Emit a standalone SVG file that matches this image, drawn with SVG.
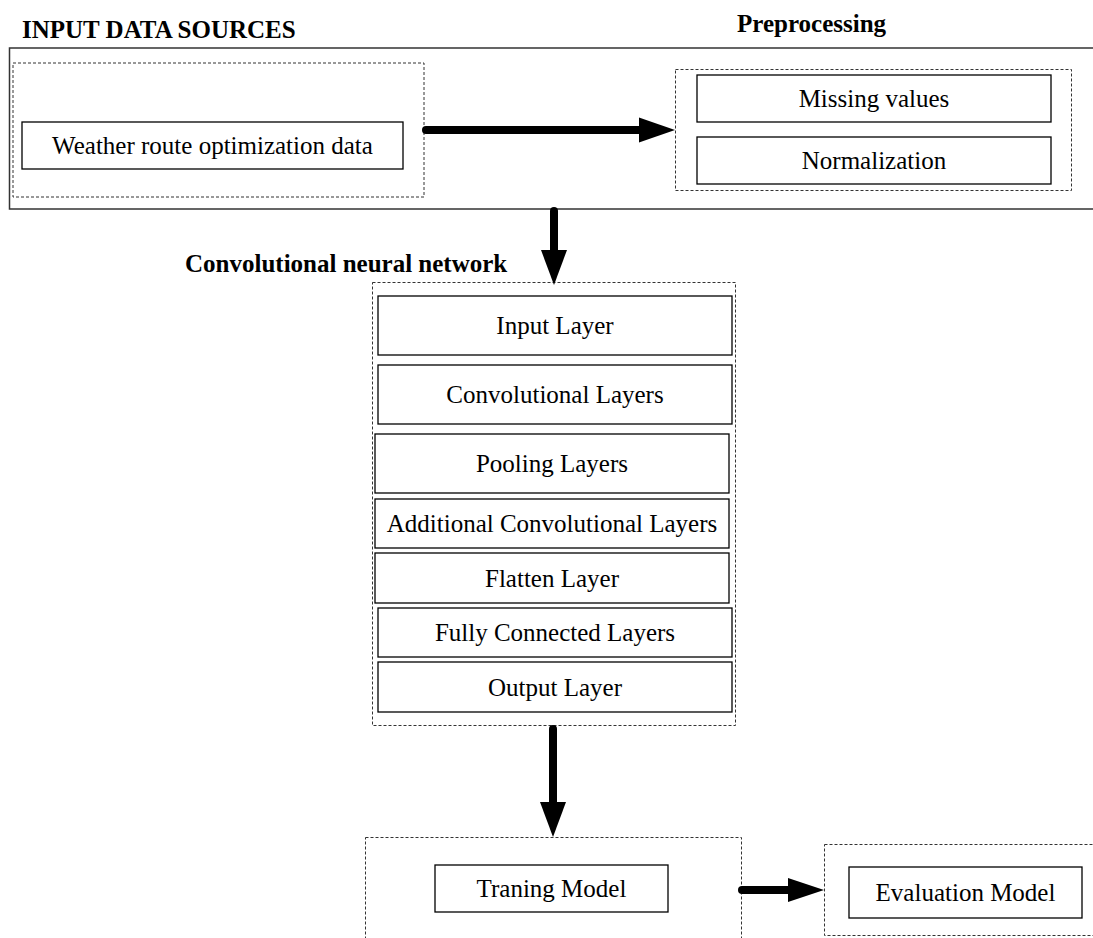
<svg xmlns="http://www.w3.org/2000/svg" width="1093" height="938" viewBox="0 0 1093 938">
<defs>
<style>
.t{font-family:"Liberation Serif","Times New Roman",serif;font-size:25px;fill:#000;text-anchor:middle}
.h{font-family:"Liberation Serif","Times New Roman",serif;font-size:25px;font-weight:bold;fill:#000}
.box{fill:#fff;stroke:#000;stroke-width:1.3}
.dash{fill:none;stroke:#333;stroke-width:1;stroke-dasharray:3,2}
.outer{fill:none;stroke:#333;stroke-width:1.5}
.con{stroke:#000;stroke-width:8;stroke-linecap:round;fill:none}
.head{fill:#000}
</style>
</defs>
<rect width="1093" height="938" fill="#fff"/>

<g id="input-sources">
<rect class="outer" x="9.5" y="48" width="1100" height="161"/>
<text class="h" x="22" y="38">INPUT DATA SOURCES</text>
<rect class="dash" x="13" y="63" width="411" height="134"/>
<g id="weather">
<rect class="box" x="22" y="122" width="381" height="47"/>
<text class="t" x="212.5" y="154">Weather route optimization data</text>
</g>
</g>

<g id="preprocessing">
<text class="h" x="737" y="32">Preprocessing</text>
<rect class="dash" x="675.5" y="69.5" width="396" height="121"/>
<g id="missing">
<rect class="box" x="697" y="75" width="354" height="47"/>
<text class="t" x="874" y="107">Missing values</text>
</g>
<g id="normalization">
<rect class="box" x="697" y="137" width="354" height="47"/>
<text class="t" x="874" y="169">Normalization</text>
</g>
</g>

<g id="cnn">
<text class="h" x="185" y="272">Convolutional neural network</text>
<rect class="dash" x="372.5" y="282.5" width="363" height="443"/>
<g id="input-layer"><rect class="box" x="378" y="296" width="354" height="59"/><text class="t" x="555" y="334">Input Layer</text></g>
<g id="conv-layers"><rect class="box" x="378" y="365" width="354" height="59"/><text class="t" x="555" y="403">Convolutional Layers</text></g>
<g id="pooling-layers"><rect class="box" x="375" y="434" width="354" height="59"/><text class="t" x="552" y="472">Pooling Layers</text></g>
<g id="additional-conv"><rect class="box" x="375" y="499" width="354" height="49"/><text class="t" x="552" y="532">Additional Convolutional Layers</text></g>
<g id="flatten-layer"><rect class="box" x="375" y="553" width="354" height="50"/><text class="t" x="552" y="586.5">Flatten Layer</text></g>
<g id="fully-connected"><rect class="box" x="378" y="608" width="354" height="49"/><text class="t" x="555" y="641">Fully Connected Layers</text></g>
<g id="output-layer"><rect class="box" x="378" y="662" width="354" height="50"/><text class="t" x="555" y="695.5">Output Layer</text></g>
</g>

<g id="training">
<rect class="dash" x="365.5" y="837.5" width="376" height="110"/>
<g id="training-model">
<rect class="box" x="435" y="865" width="233" height="47"/>
<text class="t" x="551.5" y="897">Traning Model</text>
</g>
</g>

<g id="evaluation">
<rect class="dash" x="824.5" y="844.5" width="300" height="91"/>
<g id="evaluation-model">
<rect class="box" x="849" y="867" width="233" height="51"/>
<text class="t" x="965.5" y="901">Evaluation Model</text>
</g>
</g>

<g id="connectors">
<line class="con" x1="426" y1="130" x2="642" y2="130"/>
<polygon class="head" points="639,117.5 675,130 639,142.5"/>
<line class="con" x1="554" y1="211" x2="554" y2="253"/>
<polygon class="head" points="541,250 567,250 554,285"/>
<line class="con" x1="553" y1="729" x2="553" y2="805"/>
<polygon class="head" points="540,802 566,802 553,837"/>
<line class="con" x1="742" y1="890" x2="791" y2="890"/>
<polygon class="head" points="788,878 824,890 788,902"/>
</g>
</svg>
